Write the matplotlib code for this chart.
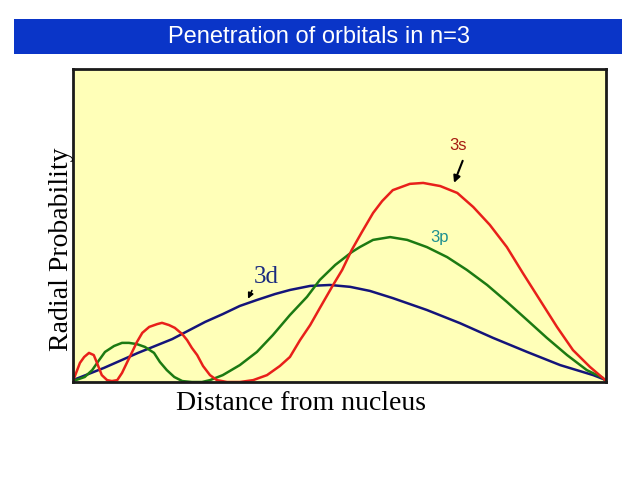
import matplotlib
matplotlib.use("Agg")
import matplotlib.pyplot as plt
from matplotlib.patches import Rectangle

# Distance from nucleus (arbitrary units 0-100) and radial probability (0-100)
s3_x = [0, 1.3, 2.1, 3.0, 3.9, 4.5, 5.4, 6.4, 7.3, 8.3,
        9.2, 10.1, 11.1, 12.0, 13.0, 14.3, 15.8, 16.7, 18.0, 19.1,
        20.5, 21.4, 22.3, 23.3, 24.4, 25.7, 27.0, 28.9, 31.3, 33.8,
        36.4, 38.8, 40.7, 42.6, 44.5, 46.3, 48.8, 50.5, 52.3, 54.2,
        56.3, 58.0, 60.0, 63.2, 65.7, 68.9, 72.1, 75.1, 78.2, 81.4,
        84.4, 87.6, 90.8, 93.8, 97.0, 99.4, 100]
s3_y = [0.3, 6.1, 8.0, 9.3, 8.6, 6.1, 2.2, 0.6, 0.3, 0.6,
        2.9, 6.1, 9.6, 12.8, 15.7, 17.6, 18.5, 18.9, 18.2, 17.3,
        15.3, 13.4, 10.9, 8.6, 5.1, 2.2, 0.6, 0.0, 0.0, 0.6,
        2.2, 5.1, 8.0, 13.4, 18.2, 23.6, 31.0, 35.8, 42.2, 47.9,
        54.0, 57.8, 61.3, 63.3, 63.6, 62.6, 60.4, 55.9, 50.2, 43.1,
        34.8, 26.2, 17.6, 10.2, 4.8, 1.3, 0.3]

p3_x = [0, 2.2, 3.6, 4.9, 6.0, 7.7, 9.2, 10.5, 12.0, 13.5,
        15.2, 16.3, 17.6, 19.0, 20.5, 22.3, 24.2, 25.7, 28.1, 31.3,
        34.5, 37.5, 40.7, 43.9, 46.3, 49.2, 52.3, 53.8, 56.3, 59.5,
        62.7, 66.4, 70.2, 73.9, 77.7, 81.4, 85.2, 88.9, 92.7, 96.4,
        99.4, 100]
p3_y = [0.3, 1.6, 3.8, 7.0, 9.6, 11.5, 12.5, 12.5, 12.1, 11.2,
        9.3, 6.4, 3.8, 1.6, 0.3, 0.0, 0.0, 0.6, 2.2, 5.4,
        9.6, 15.0, 21.4, 27.2, 32.6, 37.4, 41.5, 43.1, 45.4, 46.3,
        45.4, 43.1, 39.9, 35.8, 31.0, 25.6, 19.8, 14.1, 8.6, 3.8,
        1.3, 0.3]

d3_x = [0, 5.8, 12.2, 18.6, 24.8, 28.1, 31.3, 34.5, 37.9, 40.7, 44.5,
        48.2, 52.0, 55.7, 60.0, 66.4, 72.6, 78.8, 85.2, 91.4, 97.6, 100]
d3_y = [0.6, 4.5, 9.3, 13.7, 19.2, 21.7, 24.3, 26.2, 28.1, 29.4, 30.7,
        31.0, 30.4, 29.1, 26.8, 23.0, 18.8, 14.1, 9.6, 5.4, 2.2, 0.6]

title = "Penetration of orbitals in n=3"
xlabel = "Distance from nucleus"
ylabel = "Radial Probability"

serif = ["Liberation Serif", "DejaVu Serif"]
sans = ["Liberation Sans", "DejaVu Sans"]

fig = plt.figure(figsize=(6.4, 4.8), dpi=100)
fig.patch.set_facecolor("white")

# title bar
fig.patches.append(Rectangle((14 / 640, 1 - 54 / 480), 608 / 640, 35 / 480,
                             transform=fig.transFigure, facecolor="#0a35c8", edgecolor="none", zorder=0))
fig.text(319 / 640, 1 - 37 / 480, title, color="white", fontsize=17, ha="center", va="center",
         family=sans)

ax = fig.add_axes([73 / 640, 1 - 382 / 480, 533 / 640, 313 / 480])
ax.set_facecolor("#ffffb8")
ax.set_xlim(0, 100)
ax.set_ylim(0, 100)
ax.set_xticks([])
ax.set_yticks([])
for sp in ax.spines.values():
    sp.set_color("#1a1a1a")
    sp.set_linewidth(2)

ax.plot(d3_x, d3_y, color="#14147a", lw=1.8, solid_joinstyle="round")
ax.plot(p3_x, p3_y, color="#1c7a12", lw=1.8, solid_joinstyle="round")
ax.plot(s3_x, s3_y, color="#e8201a", lw=1.8, solid_joinstyle="round")

fig.text(301 / 640, 1 - 403 / 480, xlabel, family=serif, fontsize=20, ha="center", va="center")
fig.text(62 / 640, 1 - 249 / 480, ylabel, family=serif, fontsize=20, ha="center", va="center",
         rotation=90)

ax.text(72.2, 75.5, "3s", color="#a51a10", fontsize=12, ha="center", va="center", family=sans)
ax.annotate("", xy=(71.3, 62.8), xytext=(73.3, 71.5),
            arrowprops=dict(arrowstyle="-|>", color="black", lw=1.5, mutation_scale=10))
ax.text(68.7, 46.2, "3p", color="#1e9090", fontsize=12, ha="center", va="center", family=sans)
ax.text(36.2, 33.5, "3d", color="#1a2a80", fontsize=18, ha="center", va="center", family=serif)
ax.annotate("", xy=(32.6, 25.8), xytext=(33.8, 30.0),
            arrowprops=dict(arrowstyle="-|>", color="black", lw=1.2, mutation_scale=8))

fig.savefig("out.png", dpi=100, facecolor="white")
